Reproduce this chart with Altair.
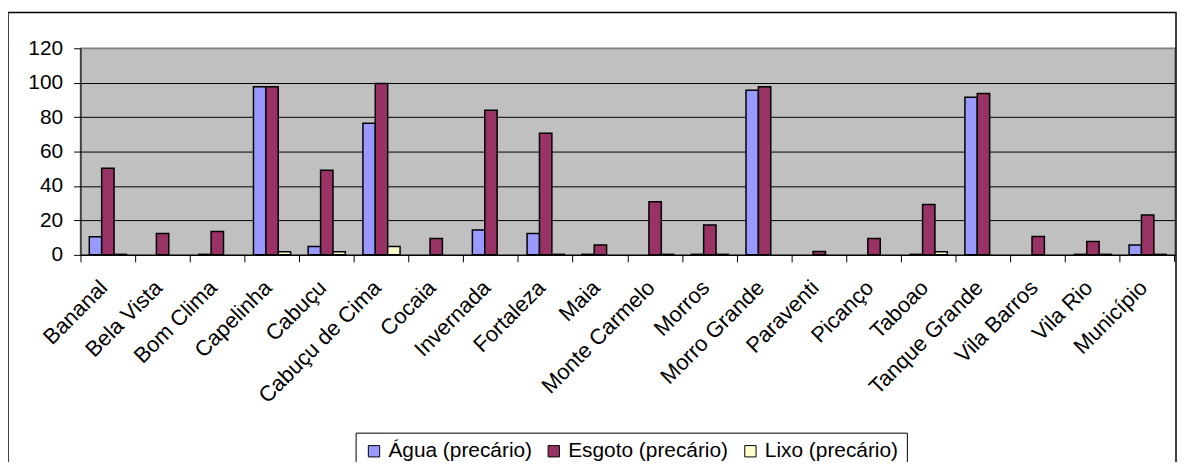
import altair as alt
import pandas as pd

cats = ["Bananal", "Bela Vista", "Bom Clima", "Capelinha", "Cabuçu", "Cabuçu de Cima",
        "Cocaia", "Invernada", "Fortaleza", "Maia", "Monte Carmelo", "Morros",
        "Morro Grande", "Paraventi", "Picanço", "Taboao", "Tanque Grande",
        "Vila Barros", "Vila Rio", "Município"]
agua = [10.5, 0, 0.3, 97.6, 4.8, 76.4, 0, 14.5, 12.4, 0.3, 0, 0.3, 95.6, 0, 0, 0.3, 91.6, 0, 0.3, 5.7]
esgoto = [50.3, 12.4, 13.6, 97.6, 49.1, 99.5, 9.5, 84.0, 70.6, 5.7, 30.8, 17.4, 97.6, 2.0, 9.5, 29.3, 93.7, 10.7, 7.8, 23.1]
lixo = [0.3, 0, 0, 1.8, 1.8, 4.8, 0, 0, 0.3, 0, 0.3, 0.3, 0, 0, 0, 1.8, 0, 0, 0.3, 0.3]
series = ["Água (precário)", "Esgoto (precário)", "Lixo (precário)"]
colors = ["#9999FF", "#993366", "#FFFFCC"]
y_ticks = [0, 20, 40, 60, 80, 100, 120]

rows = []
for i, c in enumerate(cats):
    for s, vals in zip(series, [agua, esgoto, lixo]):
        rows.append({"local": c, "serie": s, "valor": vals[i]})
df = pd.DataFrame(rows)
cat_df = pd.DataFrame({"local": cats})

FONT = "Liberation Sans"
x_scale = alt.Scale(domain=cats, paddingInner=0, paddingOuter=0)
x_axis = alt.Axis(title=None, labelAngle=-45, labelAlign="right",
                  labelBaseline="middle", bandPosition=0, labelOffset=-4,
                  labelPadding=22, tickSize=7, tickColor="black", grid=False,
                  domainColor="black", labelFont=FONT, labelFontSize=22,
                  labelColor="black", labelLimit=300)

bars = alt.Chart(df).transform_filter("datum.valor > 0").mark_bar(
    stroke="black", strokeWidth=1.5
).encode(
    x=alt.X("local:N", sort=cats, scale=x_scale, axis=x_axis),
    xOffset=alt.XOffset("serie:N", sort=series,
                        scale=alt.Scale(domain=series, paddingInner=0, paddingOuter=0.71)),
    y=alt.Y("valor:Q", scale=alt.Scale(domain=[0, 120], nice=False),
            axis=alt.Axis(title=None, values=y_ticks, tickSize=7, labelPadding=11,
                          grid=True, gridWidth=1,
                          gridColor={"condition": {"test": "datum.value === 120", "value": "#808080"},
                                     "value": "black"},
                          domainColor="black", tickColor="black",
                          labelFont=FONT, labelFontSize=21, labelColor="black")),
    color=alt.Color("serie:N", sort=series,
                    scale=alt.Scale(domain=series, range=colors),
                    legend=alt.Legend(title=None, orient="none", legendX=277, legendY=387,
                                      direction="horizontal", symbolType="square",
                                      symbolSize=130, symbolStrokeColor="black",
                                      symbolStrokeWidth=1, labelFont=FONT,
                                      labelFontSize=21, labelColor="black",
                                      labelLimit=400,
                                      strokeColor="black", fillColor="white",
                                      padding=8, columnPadding=11, labelOffset=4)),
)

# closing tick at the right end of the category axis
end_tick = alt.Chart(cat_df.head(1)).mark_rule(color="black", strokeWidth=1).encode(
    x=alt.value(1101.5), y=alt.value(208), y2=alt.value(215),
)

frame = alt.Chart(cat_df.head(1)).mark_rect(
    filled=False, stroke="black", strokeWidth=1.5
).encode(
    x=alt.value(-73), x2=alt.value(1103), y=alt.value(-36), y2=alt.value(600)
)

chart = alt.layer(frame, end_tick, bars).properties(
    width=1102, height=208, autosize="none",
    padding={"left": 73, "top": 39, "right": 2, "bottom": 207},
    background="white",
).configure_view(fill="#C0C0C0", stroke="#808080", strokeWidth=1.5)

chart.save("out.html", embed_options={"renderer": "svg", "actions": False})
